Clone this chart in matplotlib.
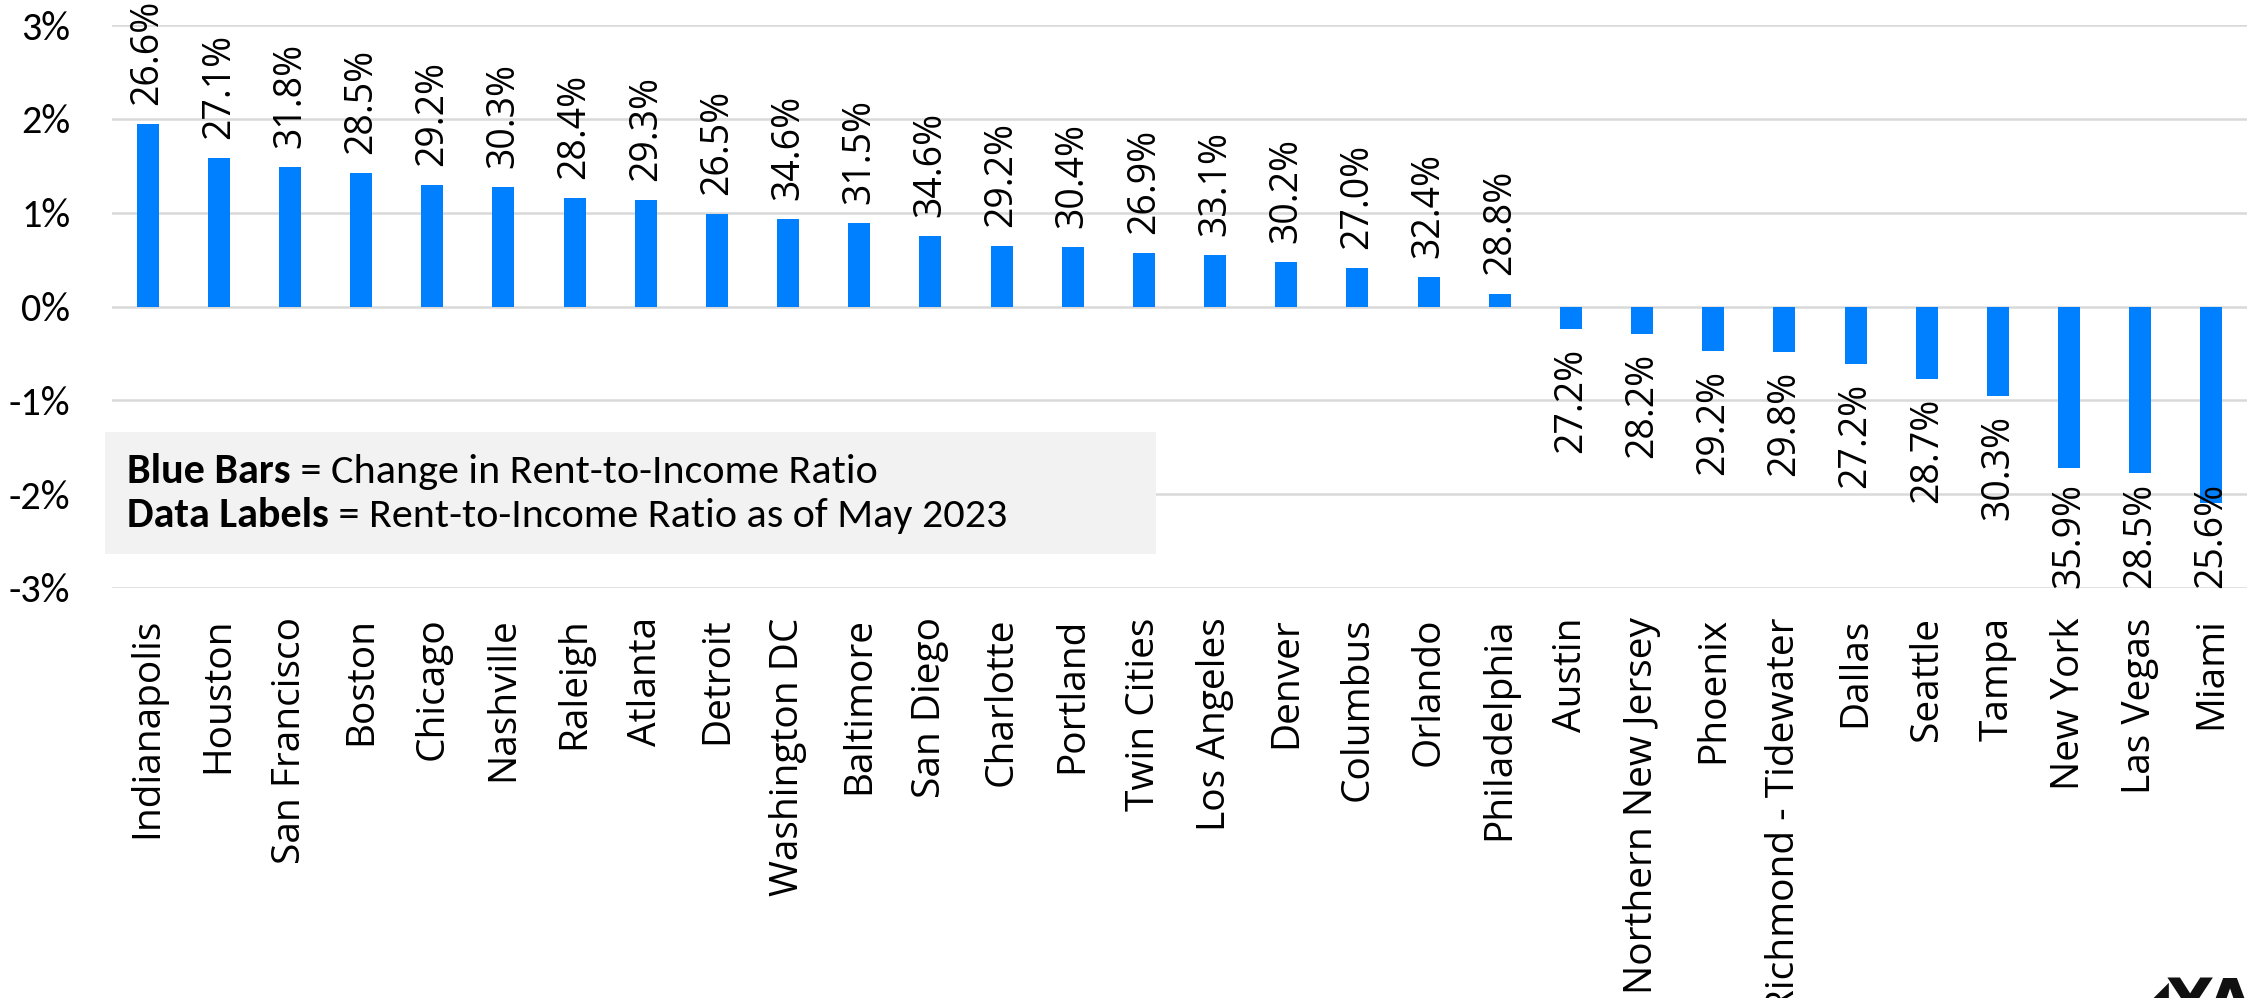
import matplotlib
matplotlib.use("Agg")
import matplotlib.pyplot as plt
from matplotlib import font_manager
from matplotlib.patches import Rectangle

cities = ["Indianapolis", "Houston", "San Francisco", "Boston", "Chicago", "Nashville",
          "Raleigh", "Atlanta", "Detroit", "Washington DC", "Baltimore", "San Diego",
          "Charlotte", "Portland", "Twin Cities", "Los Angeles", "Denver", "Columbus",
          "Orlando", "Philadelphia", "Austin", "Northern New Jersey", "Phoenix",
          "Richmond - Tidewater", "Dallas", "Seattle", "Tampa", "New York", "Las Vegas", "Miami"]
change = [1.94, 1.58, 1.49, 1.42, 1.30, 1.27, 1.16, 1.135, 0.99, 0.93, 0.895, 0.75,
          0.645, 0.635, 0.57, 0.55, 0.47, 0.415, 0.31, 0.13, -0.24, -0.295, -0.47,
          -0.485, -0.615, -0.77, -0.95, -1.72, -1.77, -2.09]
ratio = [26.6, 27.1, 31.8, 28.5, 29.2, 30.3, 28.4, 29.3, 26.5, 34.6, 31.5, 34.6, 29.2,
         30.4, 26.9, 33.1, 30.2, 27.0, 32.4, 28.8, 27.2, 28.2, 29.2, 29.8, 27.2, 28.7,
         30.3, 35.9, 28.5, 25.6]
yticks = [-3, -2, -1, 0, 1, 2, 3]
ytick_labels = ["-3%", "-2%", "-1%", "0%", "1%", "2%", "3%"]

names = {f.name for f in font_manager.fontManager.ttflist}
narrow = next((n for n in ["Liberation Sans Narrow", "Carlito", "Lato", "Open Sans"] if n in names), "DejaVu Sans")
main = "Open Sans" if "Open Sans" in names else "DejaVu Sans"

W, H = 2247, 998
fig = plt.figure(figsize=(W / 100, H / 100), dpi=100)
ax = fig.add_axes([112 / W, 1 - 588 / H, 1 - 112 / W, (588 - 25) / H])

x = list(range(len(cities)))
ax.bar(x, change, width=0.31, color="#0080ff", zorder=3)
ax.set_ylim(-3, 3)
ax.set_xlim(-0.5, len(cities) - 0.5)
ax.set_yticks(yticks)
ax.set_yticklabels(ytick_labels, fontsize=29, family=narrow)
ax.yaxis.grid(True, color="#d9d9d9", linewidth=1.8, zorder=0)
ax.set_axisbelow(True)
for s in ax.spines.values():
    s.set_visible(False)
ax.tick_params(axis="y", length=0, pad=30)
ax.tick_params(axis="x", length=0, pad=21)
ax.set_xticks(x)
ax.set_xticklabels(cities, rotation=90, fontsize=28, family=main, va="top", ha="center")

fig.canvas.draw()
r = fig.canvas.get_renderer()
px_per_unit = ax.transData.transform((0, 1))[1] - ax.transData.transform((0, 0))[1]
gap = 19 / px_per_unit
for xi, v, rt in zip(x, change, ratio):
    lbl = f"{rt:.1f}%"
    if v >= 0:
        ax.text(xi, v + gap, lbl, rotation=90, ha="center", va="bottom",
                fontsize=27, family=main, zorder=4)
    else:
        t = ax.text(xi, v - gap, lbl, rotation=90, ha="center", va="top",
                    fontsize=27, family=main, zorder=4)
        bb = t.get_window_extent(r)
        L = bb.height / px_per_unit
        if v - gap - L < -3:
            t.set_y(-3 + L)

# annotation box
fig.add_artist(Rectangle((105 / W, 1 - 554 / H), 1051 / W, 122 / H,
                         transform=fig.transFigure, facecolor="#f2f2f2",
                         edgecolor="none", zorder=2))
lines = [("Blue Bars", " = Change in Rent-to-Income Ratio", 483),
         ("Data Labels", " = Rent-to-Income Ratio as of May 2023", 527)]
fs = 26
tb = fig.text(0, 0, lines[0][0], fontsize=fs, weight="bold", family=narrow)
tr = fig.text(0, 0, lines[0][1], fontsize=fs, family=narrow)
wsum = tb.get_window_extent(r).width + tr.get_window_extent(r).width
tb.remove(); tr.remove()
fs = fs * 752 / wsum
for b, rest, base in lines:
    t1 = fig.text(127 / W, 1 - base / H, b, fontsize=fs, weight="bold", family=narrow,
                  va="baseline", zorder=3)
    w1 = t1.get_window_extent(r).width
    fig.text((127 + w1) / W, 1 - base / H, rest, fontsize=fs, family=narrow,
             va="baseline", zorder=3)

# logo fragment
fig.text(2122 / W, 1 - 976 / H, "◢YA", fontsize=44, weight="bold", family="DejaVu Sans",
         va="top", ha="left", color="#111111")

fig.savefig("out.png", dpi=100)
